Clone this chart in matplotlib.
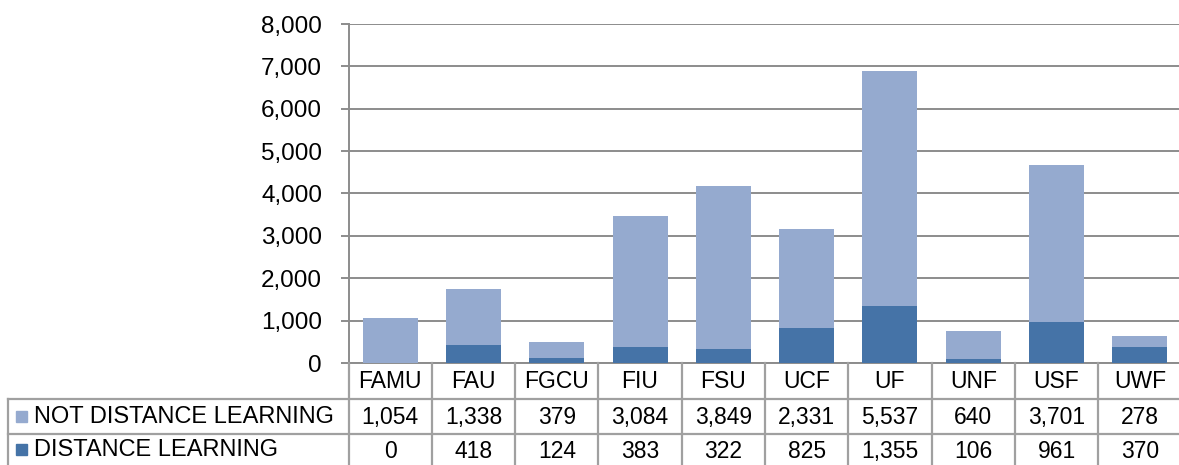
import matplotlib
matplotlib.use("Agg")
import matplotlib.pyplot as plt
from matplotlib.lines import Line2D
from matplotlib.patches import Rectangle
import numpy as np

plt.rcParams['font.family'] = ['Liberation Sans', 'DejaVu Sans']

# data
schools = ["FAMU", "FAU", "FGCU", "FIU", "FSU", "UCF", "UF", "UNF", "USF", "UWF"]
not_distance = [1054, 1338, 379, 3084, 3849, 2331, 5537, 640, 3701, 278]
distance = [0, 418, 124, 383, 322, 825, 1355, 106, 961, 370]
series_names = ["NOT DISTANCE LEARNING", "DISTANCE LEARNING"]

light = "#95AACF"
dark = "#4573A7"
grid_col = "#8C8C8C"
table_col = "#A0A0A0"

W, H = 1179, 465
fig = plt.figure(figsize=(W / 100, H / 100), dpi=100)

# chart area in pixel coords
ax_left, ax_right, ax_top, ax_bottom = 348.5, 1181.5, 24, 363
ax = fig.add_axes([ax_left / W, 1 - ax_bottom / H, (ax_right - ax_left) / W, (ax_bottom - ax_top) / H])

x = np.arange(len(schools))
ax.bar(x, distance, width=0.66, color=dark, zorder=3)
ax.bar(x, not_distance, width=0.66, bottom=distance, color=light, zorder=3)

ax.set_xlim(-0.5, len(schools) - 0.5)
ax.set_ylim(0, 8000)
ax.set_yticks(np.arange(0, 8001, 1000))
ax.set_yticklabels([f"{v:,}" for v in range(0, 8001, 1000)], fontsize=17.5)
ax.set_xticks([])
ax.yaxis.grid(True, color=grid_col, linewidth=1.4, zorder=0)
ax.tick_params(axis='y', length=6, width=1.4, color=grid_col, pad=13)
for s in ["top", "right"]:
    ax.spines[s].set_visible(False)
ax.spines["left"].set_color(grid_col)
ax.spines["bottom"].set_color(grid_col)
ax.spines["left"].set_linewidth(1.4)
ax.spines["bottom"].set_linewidth(1.4)

# data table drawn underneath, in pixel coords
tab = fig.add_axes([0, 0, 1, 1])
tab.set_xlim(0, W)
tab.set_ylim(H, 0)
tab.axis("off")

rows = [363, 398.5, 433.5, 469]
col_w = (ax_right - ax_left) / len(schools)
cols = [ax_left + i * col_w for i in range(len(schools) + 1)]

def hline(y, x0, x1):
    tab.add_line(Line2D([x0, x1], [y, y], color=table_col, linewidth=1.6))

def vline(xv, y0, y1):
    tab.add_line(Line2D([xv, xv], [y0, y1], color=table_col, linewidth=1.6))

hline(rows[1], 7.5, W)
hline(rows[2], 7.5, W)
vline(7.5, rows[1], rows[3])
for c in cols[:-1]:
    vline(c, rows[0], rows[3])

fs = 16.5
for i, name in enumerate(schools):
    cx = (cols[i] + cols[i + 1]) / 2
    tab.text(cx, (rows[0] + rows[1]) / 2 + 1, name, ha="center", va="center", fontsize=fs)
    tab.text(cx, (rows[1] + rows[2]) / 2 + 1, f"{not_distance[i]:,}", ha="center", va="center", fontsize=fs)
    tab.text(cx, (rows[2] + 465) / 2 + 2, f"{distance[i]:,}", ha="center", va="center", fontsize=fs)

for r, (name, col) in enumerate(zip(series_names, [light, dark])):
    yc = (rows[r + 1] + min(rows[r + 2], 465)) / 2
    tab.add_patch(Rectangle((16, yc - 5.5), 11, 11, color=col))
    tab.text(34, yc + 1, name, ha="left", va="center", fontsize=17)

fig.savefig("out.png", dpi=100)
